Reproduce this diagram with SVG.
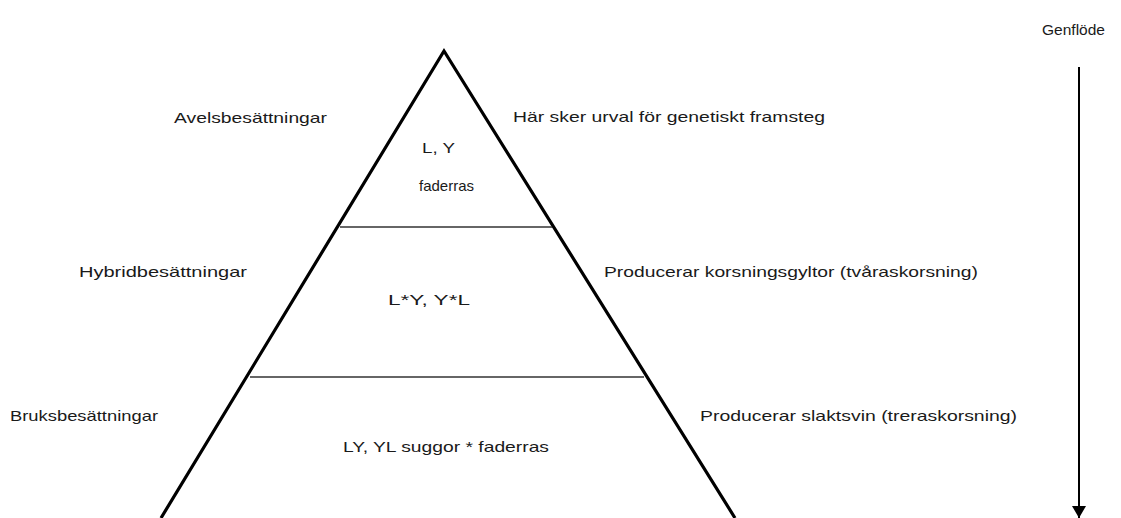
<svg xmlns="http://www.w3.org/2000/svg" width="1121" height="518" viewBox="0 0 1121 518">
<defs>
<style>
text{font-family:"Liberation Sans",Arial,sans-serif;font-size:15px;fill:#1a1a1a}
.side{stroke:#000;stroke-width:3.2;fill:none;stroke-linecap:butt}
.div{stroke:#333;stroke-width:1.6}
</style>
<marker id="ah" markerWidth="12" markerHeight="14" refX="12" refY="7" orient="auto" markerUnits="userSpaceOnUse" viewBox="0 0 12 14">
<path d="M0,0 L12,7 L0,14 Z" fill="#000"/>
</marker>
</defs>
<rect width="1121" height="518" fill="#fff"/>
<g id="pyramid">
<path class="side" d="M161,518 L444,51 L735,518"/>
</g>
<g id="layer-top">
<line class="div" x1="340" y1="227" x2="552" y2="227"/>
<text x="422" y="153" textLength="33" lengthAdjust="spacingAndGlyphs">L, Y</text>
<text x="419" y="191">faderras</text>
</g>
<g id="layer-mid">
<line class="div" x1="250" y1="377" x2="644" y2="377"/>
<text x="388" y="305" textLength="82" lengthAdjust="spacingAndGlyphs">L*Y, Y*L</text>
</g>
<g id="layer-bottom">
<text x="343" y="452" textLength="206" lengthAdjust="spacingAndGlyphs">LY, YL suggor * faderras</text>
</g>
<g id="label-avel">
<text x="174" y="123" textLength="153" lengthAdjust="spacingAndGlyphs">Avelsbesättningar</text>
<text x="513" y="122" textLength="312" lengthAdjust="spacingAndGlyphs">Här sker urval för genetiskt framsteg</text>
</g>
<g id="label-hybrid">
<text x="79" y="277" textLength="168" lengthAdjust="spacingAndGlyphs">Hybridbesättningar</text>
<text x="604" y="277" textLength="374" lengthAdjust="spacingAndGlyphs">Producerar korsningsgyltor (tvåraskorsning)</text>
</g>
<g id="label-bruk">
<text x="10" y="421" textLength="148" lengthAdjust="spacingAndGlyphs">Bruksbesättningar</text>
<text x="700" y="421" textLength="317" lengthAdjust="spacingAndGlyphs">Producerar slaktsvin (treraskorsning)</text>
</g>
<g id="genflode">
<text x="1042" y="35" textLength="63" lengthAdjust="spacingAndGlyphs">Genflöde</text>
</g>
<g id="connectors">
<line x1="1079" y1="67" x2="1079" y2="518" stroke="#000" stroke-width="2" marker-end="url(#ah)"/>
</g>
</svg>
